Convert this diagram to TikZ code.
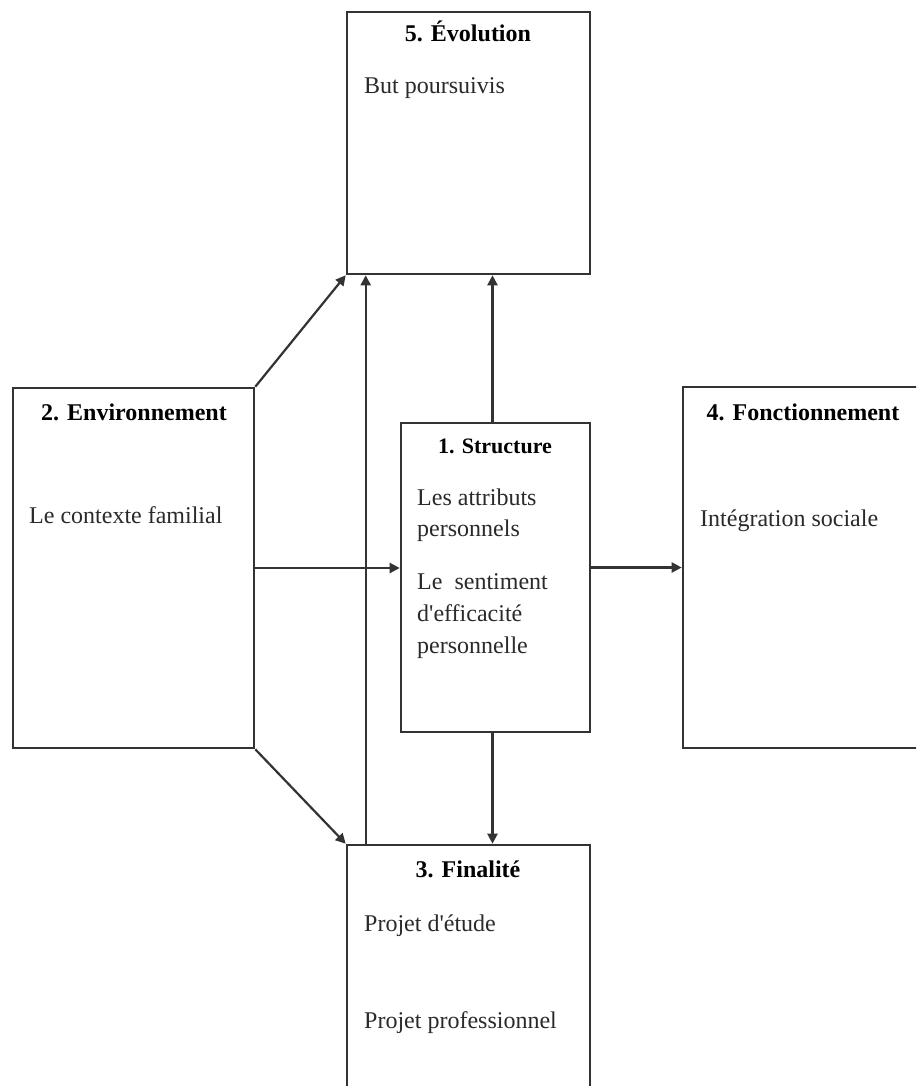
\documentclass[tikz,border=0pt]{standalone}
\usepackage{fontspec}
\setmainfont{Liberation Serif}[Ligatures=TeXOff]
\usetikzlibrary{arrows.meta}
\definecolor{linec}{HTML}{333333}
\definecolor{textc}{HTML}{2A2A2A}
\begin{document}
\begin{tikzpicture}[x=1pt,y=-1pt,
  boxst/.style={draw=linec,line width=2.6pt,rectangle,inner sep=0pt},
  titlest/.style={anchor=base,inner sep=0pt,font=\fontsize{24}{28}\selectfont\bfseries,text=black},
  bodyst/.style={anchor=base west,inner sep=0pt,font=\fontsize{24}{28}\selectfont,text=textc},
  arr/.style={draw=linec,line width=2.2pt,-{Triangle[length=10pt,width=10pt]}}]
\clip (0,0) rectangle (916,1086);
\fill[white] (0,0) rectangle (916,1086);
% boxes
\node[boxst,minimum width=243pt,minimum height=262pt] (evo) at (468.5,143) {};
\node[boxst,minimum width=241pt,minimum height=360pt] (env) at (133.5,568) {};
\node[boxst,minimum width=189pt,minimum height=309pt] (str) at (495.5,577.5) {};
\node[boxst,minimum width=252pt,minimum height=361pt] (fon) at (809,567.5) {};
\node[boxst,minimum width=243pt,minimum height=255pt] (fin) at (468.5,972.5) {};
% titles
\node[titlest] (tevo) at (468,42) {5. Évolution};
\node[titlest] (tenv) at (134,420) {2. Environnement};
\node[titlest,font=\fontsize{22}{26}\selectfont\bfseries] (tstr) at (495,453) {1. Structure};
\node[titlest] (tfon) at (803,420) {4. Fonctionnement};
\node[titlest] (tfin) at (468,877) {3. Finalité};
% body texts
\node[bodyst] (bevo) at (364,94) {But poursuivis};
\node[bodyst] (benv) at (29,523) {Le contexte familial};
\node[bodyst] (bfon) at (700,526) {Intégration sociale};
\node[bodyst] (bstra) at (417,505) {Les attributs};
\node[bodyst] (bstrb) at (417,536) {personnels};
\node[bodyst] (bstrc) at (417,589) {Le\ \ sentiment};
\node[bodyst] (bstrd) at (417,621) {d'efficacité};
\node[bodyst] (bstre) at (417,653) {personnelle};
\node[bodyst] (bfina) at (364,931) {Projet d'étude};
\node[bodyst] (bfinb) at (364,1028) {Projet professionnel};
% connectors
\draw[arr] (env.north east) -- (evo.south west);
\draw[arr] (env.south east) -- (fin.north west);
\draw[arr] (env.east) -- (env.east -| str.west);
\draw[arr] (fon.west -| str.east) -- (fon.west);
\draw[arr] ([xshift=20pt]fin.north west) -- ([xshift=20pt]evo.south west);
\draw[arr] ([xshift=-3pt]str.north) -- ([xshift=-3pt]str.north |- evo.south);
\draw[arr] ([xshift=-3pt]str.south) -- ([xshift=-3pt]str.south |- fin.north);
\end{tikzpicture}
\end{document}
